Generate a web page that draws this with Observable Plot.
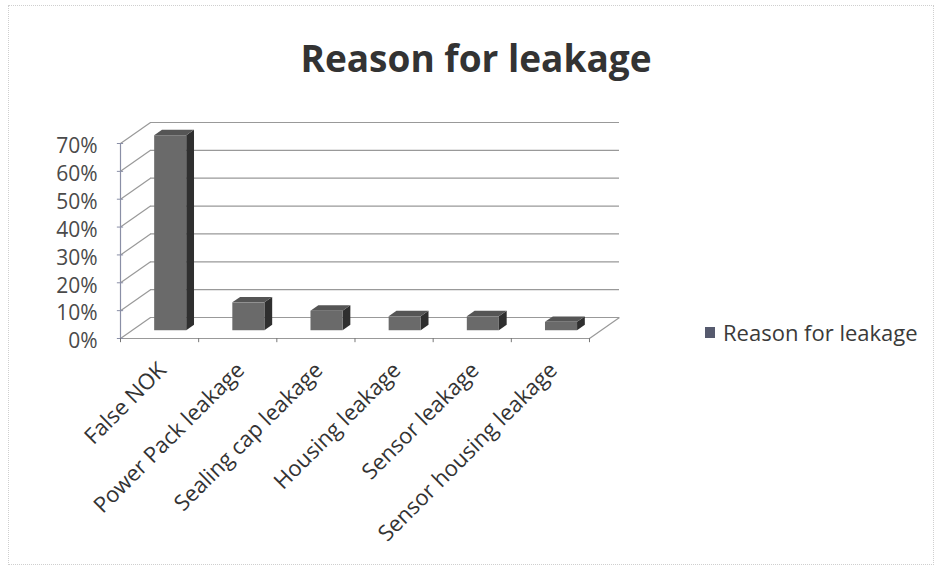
<!DOCTYPE html>
<html>
<head>
<meta charset="utf-8">
<script src="https://cdn.jsdelivr.net/npm/d3@7"></script>
<script src="https://cdn.jsdelivr.net/npm/@observablehq/plot@0.6"></script>
<style>
  html, body { margin: 0; padding: 0; background: #fff; }
  #chart { position: relative; width: 940px; height: 573px; background: #fff; font-family: "Open Sans", sans-serif; overflow: hidden; }
  #frame { position: absolute; left: 8px; top: 5px; width: 926px; height: 560px; border: 1px dotted #cfcfcf; box-sizing: border-box; }
  #title { position: absolute; left: 0; width: 952px; top: 39px; text-align: center; font-size: 37px; line-height: 37px; font-weight: 700; color: #333; }
  #plot { position: absolute; left: 0; top: 0; }
  #legend { position: absolute; left: 705px; top: 321px; font-size: 22px; line-height: 22px; color: #3a3a3a; display: flex; align-items: center; }
  #legend .swatch { width: 10px; height: 11px; background: #565a6e; margin-right: 8px; }
</style>
</head>
<body>
<div id="chart">
  <div id="frame"></div>
  <div id="plot"></div>
  <div id="title">Reason for leakage</div>
  <div id="legend"><span class="swatch"></span><span>Reason for leakage</span></div>
</div>
<script>
// Share of leak-test rejects by cause
const categories = [
  "False NOK",
  "Power Pack leakage",
  "Sealing cap leakage",
  "Housing leakage",
  "Sensor leakage",
  "Sensor housing leakage"
];
const shares = [0.70, 0.10, 0.07, 0.05, 0.05, 0.03];
const yTicks = [0, 0.1, 0.2, 0.3, 0.4, 0.5, 0.6, 0.7];
const seriesName = "Reason for leakage";

// Oblique 3-D projection expressed in data units: the back wall is
// shifted right by DX category bands and up by DY share units.
const DX = 0.384;
const DY = 0.0754;
const barWidth = 0.41;      // fraction of a band
const t0 = 0.37, t1 = 0.63; // depth of the bar's front and back faces

const bars = shares.map((v, i) => ({
  name: categories[i],
  v,
  a: i + 0.5 - barWidth / 2,
  b: i + 0.5 + barWidth / 2
}));

const sideFaces = bars.flatMap(d => [
  {name: d.name, x: d.b + t0 * DX, y1: t0 * DY, y2: d.v + t0 * DY},
  {name: d.name, x: d.b + t1 * DX, y1: t1 * DY, y2: d.v + t1 * DY}
]);
const topFaces = bars.flatMap(d => [
  {name: d.name, y: d.v + t0 * DY, x1: d.a + t0 * DX, x2: d.b + t0 * DX},
  {name: d.name, y: d.v + t1 * DY, x1: d.a + t1 * DX, x2: d.b + t1 * DX}
]);

const n = categories.length;
const grid = "#999999";
const axisColor = "#8a8fa6";

const plot = Plot.plot({
  width: 640,
  height: 573,
  marginLeft: 120,
  marginRight: 21,
  marginTop: 122,
  marginBottom: 235,
  style: {fontFamily: "Open Sans, sans-serif", background: "transparent", overflow: "visible"},
  x: {type: "linear", domain: [0, n + DX], axis: null},
  y: {domain: [0, 0.7 + DY], axis: null},
  marks: [
    // back wall
    Plot.ruleY(yTicks, {y: d => d + DY, x1: DX, x2: n + DX, stroke: grid, strokeWidth: 1.2}),
    // side wall
    Plot.link(yTicks, {x1: 0, y1: d => d, x2: DX, y2: d => d + DY, stroke: grid, strokeWidth: 1.2}),
    // floor right edge
    Plot.link([0], {x1: n, y1: 0, x2: n + DX, y2: DY, stroke: grid, strokeWidth: 1.2}),
    // bars: side, top, front
    Plot.areaY(sideFaces, {x: "x", y1: "y1", y2: "y2", z: "name", fill: "#2f2f2f"}),
    Plot.areaX(topFaces, {y: "y", x1: "x1", x2: "x2", z: "name", fill: "#555555"}),
    Plot.rect(bars, {
      x1: d => d.a + t0 * DX, x2: d => d.b + t0 * DX,
      y1: t0 * DY, y2: d => d.v + t0 * DY,
      fill: "#6a6a6a", title: d => `${d.name}: ${d3.format(".0%")(d.v)}`
    }),
    // front axes
    Plot.ruleX([0], {y1: 0, y2: 0.7, stroke: axisColor, strokeWidth: 1.2}),
    Plot.ruleY([0], {x1: 0, x2: n, stroke: grid, strokeWidth: 1.2}),
    Plot.ruleY(yTicks, {x1: -0.04, x2: 0.04, stroke: axisColor}),
    Plot.ruleX(d3.range(n + 1), {y1: 0, y2: -0.015, stroke: "#777"}),
    Plot.axisY({
      ticks: yTicks, tickSize: 0, tickPadding: 23, label: null,
      tickFormat: d3.format(".0%"), fontSize: 21, color: "#4a4a4a", dy: 3
    }),
    // category labels
    Plot.text(categories, {
      x: (d, i) => i + 0.5, y: 0, text: d => d,
      rotate: -45, textAnchor: "end", dx: 3, dy: 28,
      fontSize: 22, fill: "#333"
    })
  ]
});
document.getElementById("plot").append(plot);
document.querySelector("#legend span:last-child").textContent = seriesName;
</script>
</body>
</html>
